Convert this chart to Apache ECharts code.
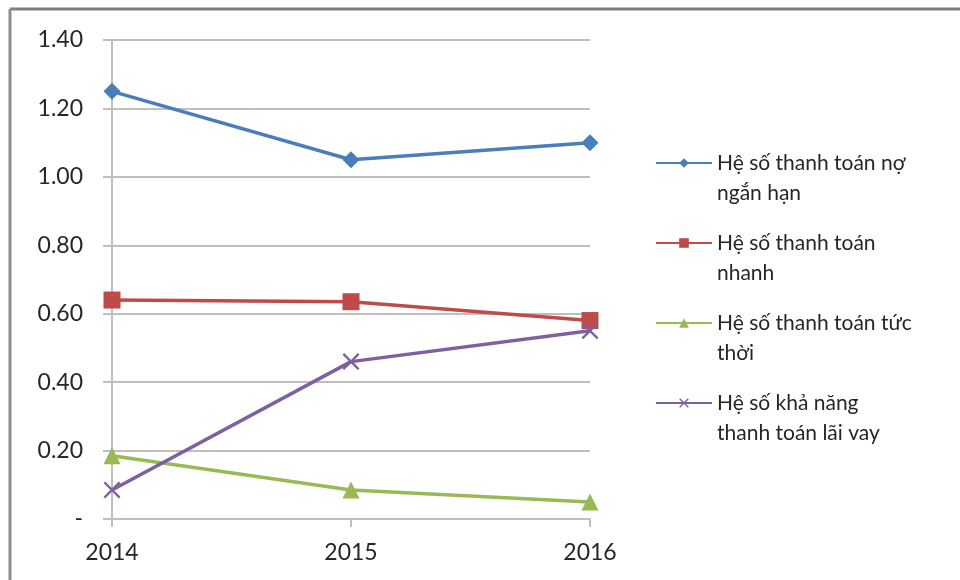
<!DOCTYPE html>
<html>
<head>
<meta charset="utf-8">
<style>
  html, body { margin: 0; padding: 0; background: #fff; }
  #chart { width: 960px; height: 580px; }
</style>
<script src="https://cdn.jsdelivr.net/npm/echarts@6/dist/echarts.min.js"></script>
</head>
<body>
<div id="chart"></div>
<script>
"use strict";
var years = ['2014', '2015', '2016'];
var names = [
  'Hệ số thanh toán nợ\nngắn hạn',
  'Hệ số thanh toán\nnhanh',
  'Hệ số thanh toán tức\nthời',
  'Hệ số khả năng\nthanh toán lãi vay'
];
var nganHan = [1.25, 1.05, 1.10];
var nhanh = [0.64, 0.635, 0.58];
var tucThoi = [0.185, 0.085, 0.05];
var laiVay = [0.085, 0.46, 0.55];

var colors = ['#4a7ebb', '#be4b48', '#98b954', '#7d60a0'];
var xMark = 'path://M0,1 L1,0 L5,4 L9,0 L10,1 L6,5 L10,9 L9,10 L5,6 L1,10 L0,9 L4,5 Z';

function line(name, data, color, symbol, size){
  return { name: name, type: 'line', data: data, symbol: symbol, symbolSize: size,
    showAllSymbol: true, z: 3,
    lineStyle: { color: color, width: 3.5 },
    itemStyle: { color: color } };
}

var chart = echarts.init(document.getElementById('chart'));
chart.setOption({
  animation: false,
  backgroundColor: '#fff',
  textStyle: { fontFamily: 'Lato' },
  grid: { left: 112, right: 370, top: 40, bottom: 61 },
  legend: {
    orient: 'vertical', left: 655, top: 118, padding: 0,
    itemWidth: 56, itemHeight: 12, itemGap: -10,
    // leading blank line keeps the first text line level with the icon
    formatter: function(n){ return '\n' + n; },
    textStyle: { fontSize: 21, color: '#262626', lineHeight: 30, fontFamily: 'Lato' },
    data: names
  },
  xAxis: {
    type: 'category', data: years, boundaryGap: false,
    axisLine: { lineStyle: { color: '#bfbfbf', width: 2 } },
    axisTick: { length: 8, lineStyle: { color: '#bfbfbf', width: 2 } },
    axisLabel: { fontSize: 23, color: '#262626', margin: 22 },
    splitLine: { show: false }
  },
  yAxis: {
    type: 'value', min: 0, max: 1.4, interval: 0.2,
    axisLine: { show: true, lineStyle: { color: '#bfbfbf', width: 2 } },
    axisTick: { show: true, length: 9, lineStyle: { color: '#bfbfbf', width: 2 } },
    axisLabel: { fontSize: 23, color: '#262626', margin: 29,
      formatter: function(v){ return v === 0 ? '-' : v.toFixed(2); } },
    splitLine: { lineStyle: { color: '#bfbfbf', width: 2 } }
  },
  graphic: [
    { type: 'line', shape: { x1: 10, y1: 9, x2: 960, y2: 9 }, style: { stroke: '#7f7f7f', lineWidth: 3 } },
    { type: 'line', shape: { x1: 10, y1: 9, x2: 10, y2: 580 }, style: { stroke: '#8c8c8c', lineWidth: 3 } }
  ],
  series: [
    line(names[0], nganHan, colors[0], 'diamond', 17),
    line(names[1], nhanh, colors[1], 'rect', 17),
    line(names[2], tucThoi, colors[2], 'triangle', 17),
    line(names[3], laiVay, colors[3], xMark, 17)
  ]
});
</script>
</body>
</html>
